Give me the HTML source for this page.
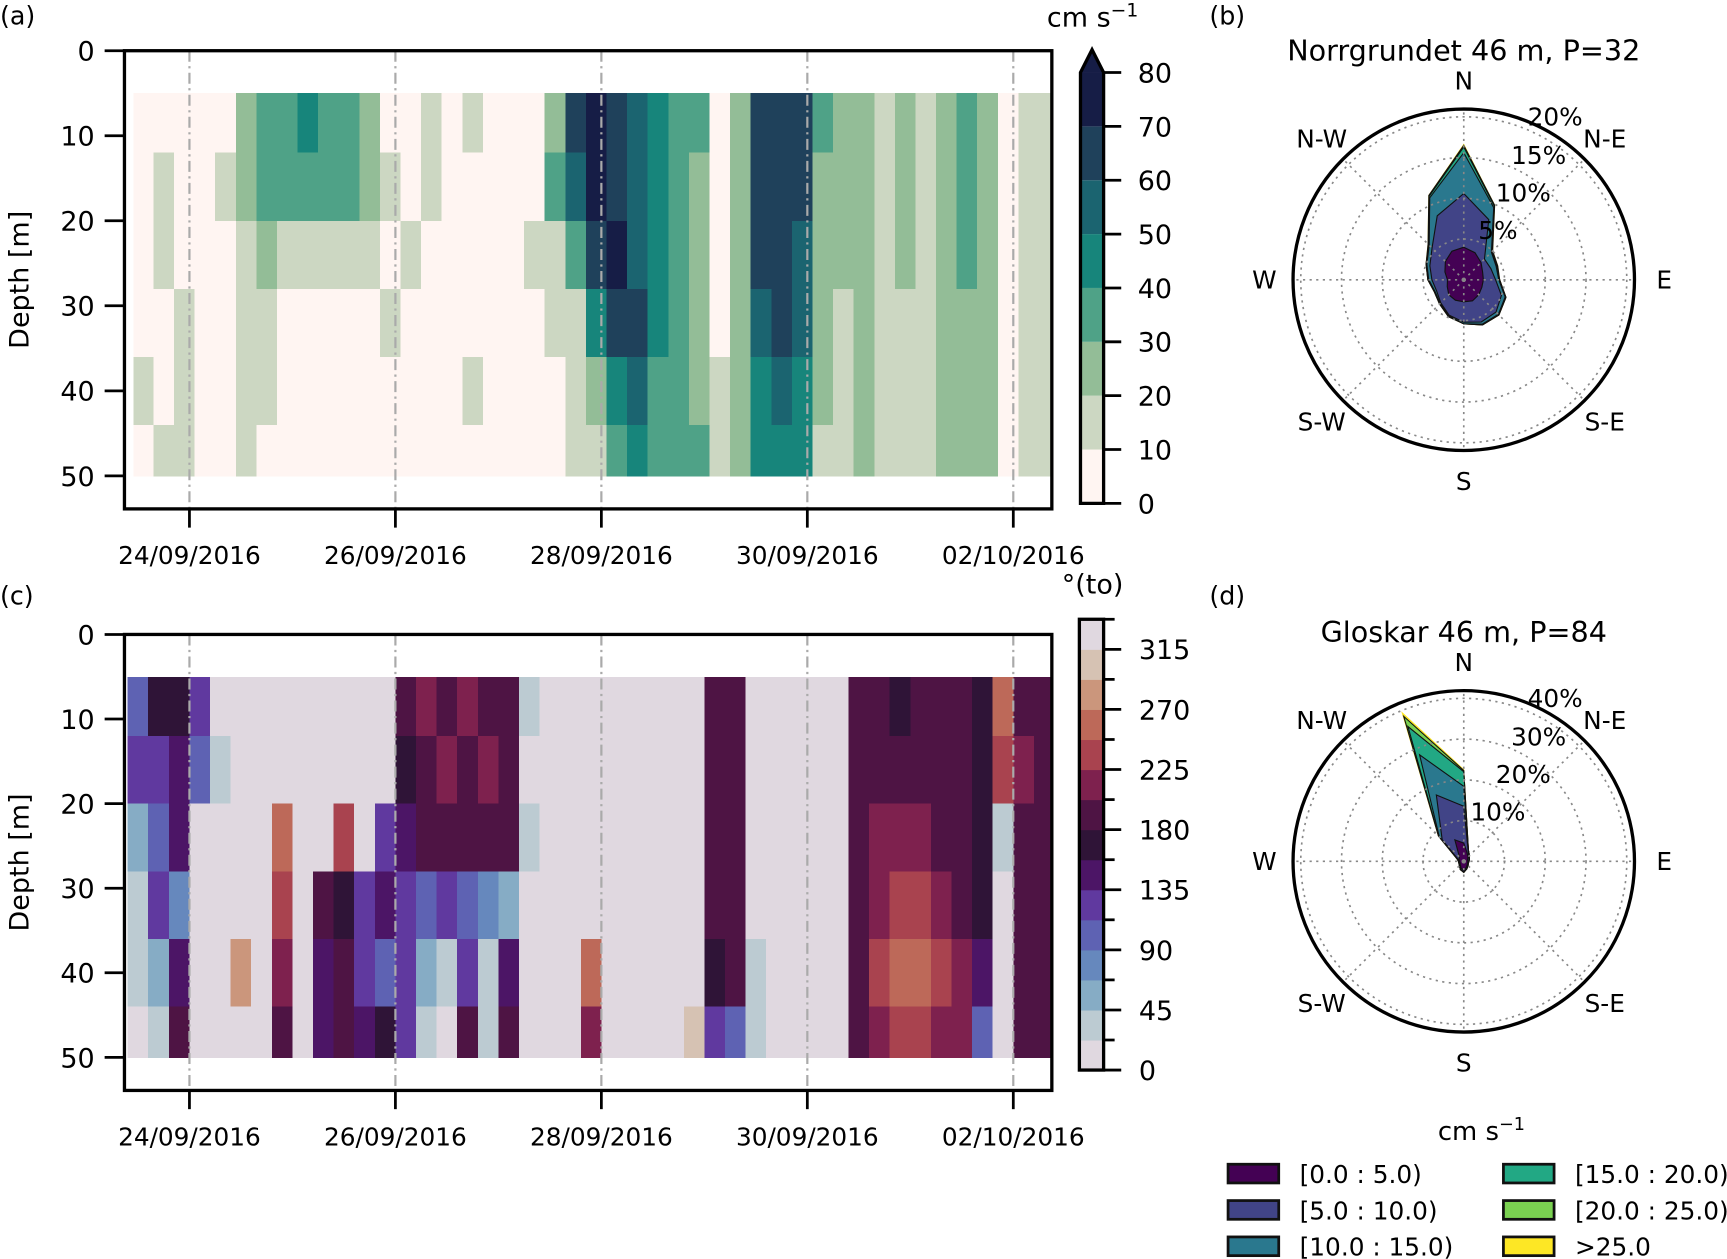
<!DOCTYPE html>
<html><head><meta charset="utf-8"><style>
html,body{margin:0;padding:0;background:#fff;}
svg{display:block;font-family:"DejaVu Sans","Liberation Sans",sans-serif;}
</style></head><body>
<svg id="fig" width="1727" height="1259" viewBox="0 0 1568 1143" xmlns="http://www.w3.org/2000/svg">
<g id="A"></g>
<g id="C"></g>
<g id="B"></g>
<g id="D"></g>
<g id="L"></g>
</svg>
<script>
// ---------- data ----------
const dateLabels = ["24/09/2016","26/09/2016","28/09/2016","30/09/2016","02/10/2016"];
const dateDays = [0,2,4,6,8];
const depthTicks = [0,10,20,30,40,50];
const depthEdges = [5,12,20,28,36,44,50];
const colStart = -0.55, colStep = 0.2;
const speedRow0 = [5,5,5,5,5,25,35,35,45,35,35,25,5,5,15,5,15,5,5,5,25,65,75,65,55,45,35,35,5,25,65,65,65,35,25,25,15,25,15,25,35,25,5,15,15];
const speedRow1 = [5,15,5,5,15,25,35,35,35,35,35,25,15,5,15,5,5,5,5,5,35,55,75,65,55,45,35,25,5,25,65,65,65,25,25,25,15,25,15,25,35,25,5,15,15];
const speedRow2 = [5,15,5,5,5,15,25,15,15,15,15,15,5,15,5,5,5,5,5,15,15,35,65,75,55,45,35,25,5,25,65,65,55,25,25,25,15,25,15,25,35,25,5,15,15];
const speedRow3 = [5,5,15,5,5,15,15,5,5,5,5,5,15,5,5,5,5,5,5,5,15,15,45,65,65,45,35,25,5,25,55,65,55,25,15,25,15,15,15,25,25,25,5,15,15];
const speedRow4 = [15,5,15,5,5,15,15,5,5,5,5,5,5,5,5,5,15,5,5,5,5,15,25,45,55,35,35,25,15,25,45,55,45,25,15,25,15,15,15,25,25,25,5,15,15];
const speedRow5 = [5,15,15,5,5,15,5,5,5,5,5,5,5,5,5,5,5,5,5,5,5,15,15,35,45,35,35,35,15,25,45,45,45,15,15,25,15,15,15,25,25,25,5,15,15];
const dirStart = -0.6;
const dirRow0 = [110,160,170,120,0,0,0,0,0,0,0,0,0,180,210,200,210,190,180,30,0,0,0,0,0,0,0,0,190,200,0,0,0,0,0,190,200,170,190,200,190,160,250,200,180];
const dirRow1 = [120,130,150,110,30,0,0,0,0,0,0,0,0,170,200,220,200,210,200,20,0,0,0,0,0,0,0,0,190,190,0,0,0,0,0,190,200,200,200,200,190,170,240,210,190];
const dirRow2 = [60,110,140,20,0,0,0,250,0,0,240,0,120,150,190,190,180,180,200,40,0,0,0,0,0,0,0,0,180,190,0,0,0,0,0,190,210,220,210,200,200,170,30,200,180];
const dirRow3 = [40,130,70,0,0,20,0,240,0,190,160,120,150,120,110,120,100,80,60,0,0,0,0,0,0,0,0,0,180,180,0,0,0,0,0,190,220,230,240,220,200,170,20,200,180];
const dirRow4 = [30,60,150,0,0,270,0,210,0,150,190,130,110,130,60,30,120,40,150,20,0,0,250,0,0,0,0,0,170,180,30,0,0,0,0,200,230,250,250,230,210,150,20,190,190];
const dirRow5 = [20,40,200,0,0,0,0,190,0,140,200,150,160,120,40,20,180,30,190,0,0,0,220,0,0,0,0,300,120,110,40,0,0,0,20,200,220,240,240,220,220,110,20,190,190];
const speedTicks = [0,10,20,30,40,50,60,70,80];
const dirTicks = [0,45,90,135,180,225,270,315];
// rose data: cumulative % per 16 directions (N clockwise)
const roseB0 = [4.0,3.6,3.0,2.5,2.4,2.4,2.6,2.8,2.7,2.7,2.6,2.2,2.0,2.5,3.2,3.8];
const roseB1 = [10.6,8.0,3.6,3.6,3.9,5.0,5.6,5.6,5.2,4.7,4.0,3.6,3.9,4.5,5.5,8.5];
const roseB2 = [15.6,9.6,4.8,4.3,4.3,5.5,6.0,5.9,5.4,4.8,4.1,3.8,4.3,4.9,6.0,10.9];
const roseB3 = [16.3,9.8,4.9,4.4,4.4,5.6,6.1,6.0,5.4,4.9,4.2,3.9,4.4,5.0,6.1,11.1];
const roseB4 = [16.5,9.9,5.0,4.5,4.4,5.6,6.1,6.0,5.4,4.9,4.2,3.9,4.4,5.0,6.2,11.2];
const roseB5 = [16.6,9.9,5.0,4.5,4.4,5.6,6.1,6.0,5.4,4.9,4.2,3.9,4.4,5.0,6.2,11.2];
const roseD0 = [4.5,2.2,1.5,1.0,1.0,1.0,1.2,1.6,2.2,1.8,1.2,1.0,1.0,1.3,1.5,5.7];
const roseD1 = [13.5,2.8,1.8,1.4,1.2,1.1,1.4,1.9,2.6,2.1,1.4,1.2,1.2,1.6,7.5,17.6];
const roseD2 = [18.4,3.0,2.0,1.5,1.3,1.2,1.5,2.0,2.7,2.2,1.5,1.3,1.3,1.8,8.5,28.3];
const roseD3 = [22.0,3.0,2.0,1.5,1.3,1.2,1.5,2.0,2.7,2.2,1.5,1.3,1.3,1.8,8.7,35.8];
const roseD4 = [22.3,3.0,2.0,1.5,1.3,1.2,1.5,2.0,2.7,2.2,1.5,1.3,1.3,1.8,8.8,38.5];
const roseD5 = [22.5,3.0,2.0,1.5,1.3,1.2,1.5,2.0,2.7,2.2,1.5,1.3,1.3,1.8,8.8,39.4];
const legendLabels = ["[0.0 : 5.0)","[5.0 : 10.0)","[10.0 : 15.0)","[15.0 : 20.0)","[20.0 : 25.0)",">25.0"];

// ---------- helpers ----------
const NS="http://www.w3.org/2000/svg";
function mk(parent,tag,attrs,text){const e=document.createElementNS(NS,tag);for(const k in attrs)e.setAttribute(k,attrs[k]);if(text!==undefined)e.textContent=text;parent.appendChild(e);return e;}
const speedColors=["#fff5f2","#ccd7c2","#93bd97","#4fa287","#17857b","#1b6470","#1f415b","#161d46"];
const dirColors=["#e0d8e0","#bccbd2","#86acc5","#6688bd","#5e62b3","#60399f","#4c1566","#2f1437","#4e1444","#7e214e","#a9434f","#bd6959","#cb967c","#d6c2b3","#e0d8e0"];
function speedColor(v){return speedColors[Math.max(0,Math.min(7,Math.floor(v/10)))];}
function dirColor(v){v=((v%360)+360)%360;const i=Math.floor(v/22.5);return i>=15?dirColors[14]:dirColors[i];}
const xDay=t=>172+93.5*t;

function panel(g,top,bottom,d50,rows,start,colorFn,x0){
  const yD=d=>top+(d50-top)*d/50;
  const clip="c"+top;
  const cp=mk(mk(g,"defs",{}),"clipPath",{id:clip});mk(cp,"rect",{x:x0,y:top,width:955-x0,height:bottom-top});
  const hg=mk(g,"g",{"clip-path":"url(#"+clip+")"});
  
  
  rows.forEach((row,ri)=>{row.forEach((v,ci)=>{
    const xa=Math.max(x0,xDay(start+ci*colStep)), xb=xDay(start+(ci+1)*colStep);
    if(xb<=xa)return;
    const r=mk(hg,"rect",{x:xa,y:yD(depthEdges[ri]),width:xb-xa+0.6,height:yD(depthEdges[ri+1])-yD(depthEdges[ri])+0.6,fill:colorFn(v),"shape-rendering":"crispEdges"});
    
    
  });});
  dateDays.forEach((d,i)=>{
    const x=xDay(d);
    const l=mk(g,"line",{x1:x,x2:x,y1:top,y2:bottom,stroke:"#aaa","stroke-width":2,"stroke-dasharray":"10,4,2,4"});
    
    
    mk(g,"line",{x1:x,x2:x,y1:bottom,y2:bottom+17,stroke:"#000","stroke-width":2.5});
    const t=mk(g,"text",{x:x,y:bottom+50,"font-size":22.5,"text-anchor":"middle"},dateLabels[i]);
    
    
  });
  depthTicks.forEach(d=>{
    const y=yD(d);
    mk(g,"line",{x1:95,x2:113,y1:y,y2:y,stroke:"#000","stroke-width":2.5});
    const t=mk(g,"text",{x:86,y:y+9,"font-size":24.5,"text-anchor":"end"},String(d));
    
    
  });
  const f=mk(g,"rect",{x:113,y:top,width:842,height:bottom-top,fill:"none",stroke:"#000","stroke-width":3});
  
  
  const yt=mk(g,"text",{x:0,y:0,"font-size":24.5,"text-anchor":"middle",transform:`translate(26,${(top+bottom)/2}) rotate(-90)`},"Depth [m]");
  
  
}
const A=document.getElementById("A"), C=document.getElementById("C");
panel(A,46,462,432,[speedRow0,speedRow1,speedRow2,speedRow3,speedRow4,speedRow5],colStart,speedColor,121);
panel(C,576,990,960,[dirRow0,dirRow1,dirRow2,dirRow3,dirRow4,dirRow5],dirStart,dirColor,115);

// colorbar a
(function(){
  const g=mk(A,"g",{});
  const y0=457, per=48.9/10, x=981, w=21;
  speedColors.forEach((c,i)=>{const yb=y0-i*10*per, yt=i==7?y0-80*per:y0-(i+1)*10*per;mk(g,"rect",{x:x,y:yt,width:w,height:yb-yt,fill:c});});
  mk(g,"path",{d:`M${x},${y0-80*per} L${x+w/2},45 L${x+w},${y0-80*per} Z`,fill:speedColors[7]});
  mk(g,"path",{d:`M${x},${y0} L${x},${y0-80*per} L${x+w/2},45 L${x+w},${y0-80*per} L${x+w},${y0} Z`,fill:"none",stroke:"#000","stroke-width":3});
  speedTicks.forEach(v=>{const y=y0-v*per;mk(g,"line",{x1:x+w,x2:x+w+16,y1:y,y2:y,stroke:"#000","stroke-width":2.5});
    const t=mk(g,"text",{x:x+w+31,y:y+9,"font-size":24.5},String(v));});
  const tt=mk(g,"text",{x:992,y:24,"font-size":24.5,"text-anchor":"middle"});tt.innerHTML='cm s<tspan dy="-9" font-size="17">−1</tspan>';
  
})();
// colorbar c
(function(){
  const g=mk(C,"g",{});
  const y0=971.5, per=382/315, x=980, w=22;
  dirColors.forEach((c,i)=>{mk(g,"rect",{x:x,y:y0-(i+1)*22.5*per,width:w,height:22.5*per+0.5,fill:c});});
  mk(g,"rect",{x:x,y:y0-337.5*per,width:w,height:337.5*per,fill:"none",stroke:"#000","stroke-width":3});
  for(let v=0;v<=337.5;v+=22.5){const y=y0-v*per;const maj=(v%45===0);mk(g,"line",{x1:x+w,x2:x+w+(maj?16:10),y1:y,y2:y,stroke:"#000","stroke-width":2.5});}
  dirTicks.forEach(v=>{const y=y0-v*per;const t=mk(g,"text",{x:x+w+32,y:y+9,"font-size":24.5},String(v));});
  const tt=mk(g,"text",{x:992,y:539,"font-size":24.5,"text-anchor":"middle"},"°(to)");
  
})();
// panel letters
[["(a)",0,22],["(b)",1098,22],["(c)",0,549],["(d)",1098,549]].forEach(p=>{const t=mk(document.getElementById("fig"),"text",{x:p[1],y:p[2],"font-size":23},p[0]);});

// roses
const roseColors=["#440154","#414487","#2a788e","#22a884","#7ad151","#fde725"];
function rose(g,cy,layers,pxPer,rings,title){
  const cx=1329,R=155;
  const tt=mk(g,"text",{x:cx,y:cy-199,"font-size":26,"text-anchor":"middle"},title);
  for(let i=layers.length-1;i>=0;i--){
    const pts=layers[i].map((v,k)=>{const a=k*22.5*Math.PI/180,r=v*pxPer;return (cx+r*Math.sin(a)).toFixed(1)+","+(cy-r*Math.cos(a)).toFixed(1);}).join(" ");
    const p=mk(g,"polygon",{points:pts,fill:roseColors[i],stroke:i==5?"#fde725":"#111","stroke-width":1});
    
    
  }
  rings.forEach(r=>mk(g,"circle",{cx:cx,cy:cy,r:r*pxPer,fill:"none",stroke:"#888","stroke-width":1.5,"stroke-dasharray":"2,4"}));
  for(let k=0;k<8;k++){const a=k*Math.PI/4;mk(g,"line",{x1:cx,y1:cy,x2:cx+R*Math.sin(a),y2:cy-R*Math.cos(a),stroke:"#888","stroke-width":1.5,"stroke-dasharray":"2,4"});}
  mk(g,"circle",{cx:cx,cy:cy,r:R,fill:"none",stroke:"#000","stroke-width":3});
  const labs=[["N",0,-181],["N-E",128,-128],["E",182,0],["S-E",128,129],["S",0,183],["S-W",-129,129],["W",-181,0],["N-W",-129,-128]];
  labs.forEach(l=>{const t=mk(g,"text",{x:cx+l[1],y:cy+l[2]+8,"font-size":22.5,"text-anchor":"middle"},l[0]);});
  const rp=[[83,-148],[68,-113],[54,-79],[31,-45]];
  rings.slice().reverse().forEach((r,i)=>{const t=mk(g,"text",{x:cx+rp[i][0],y:cy+rp[i][1]+8,"font-size":22.5,"text-anchor":"middle"},r+"%");});
}
rose(document.getElementById("B"),254,[roseB0,roseB1,roseB2,roseB3,roseB4,roseB5],7.4,[5,10,15,20],"Norrgrundet 46 m, P=32");
rose(document.getElementById("D"),782,[roseD0,roseD1,roseD2,roseD3,roseD4,roseD5],3.7,[10,20,30,40],"Gloskar 46 m, P=84");

// legend
(function(){
  const g=document.getElementById("L");
  const tt=mk(g,"text",{x:1345,y:1035,"font-size":23.5,"text-anchor":"middle"});tt.innerHTML='cm s<tspan dy="-9" font-size="16">−1</tspan>';
  
  legendLabels.forEach((lab,i)=>{
    const col=Math.floor(i/3),row=i%3;const x=1115+col*250,y=1057+row*33;
    const e=mk(g,"g",{});
    mk(e,"rect",{x:x,y:y,width:46,height:17,fill:roseColors[i],stroke:"#111","stroke-width":2.5});
    mk(e,"text",{x:x+65,y:y+17,"font-size":22.5},lab);
  });
})();
</script>
</body></html>
